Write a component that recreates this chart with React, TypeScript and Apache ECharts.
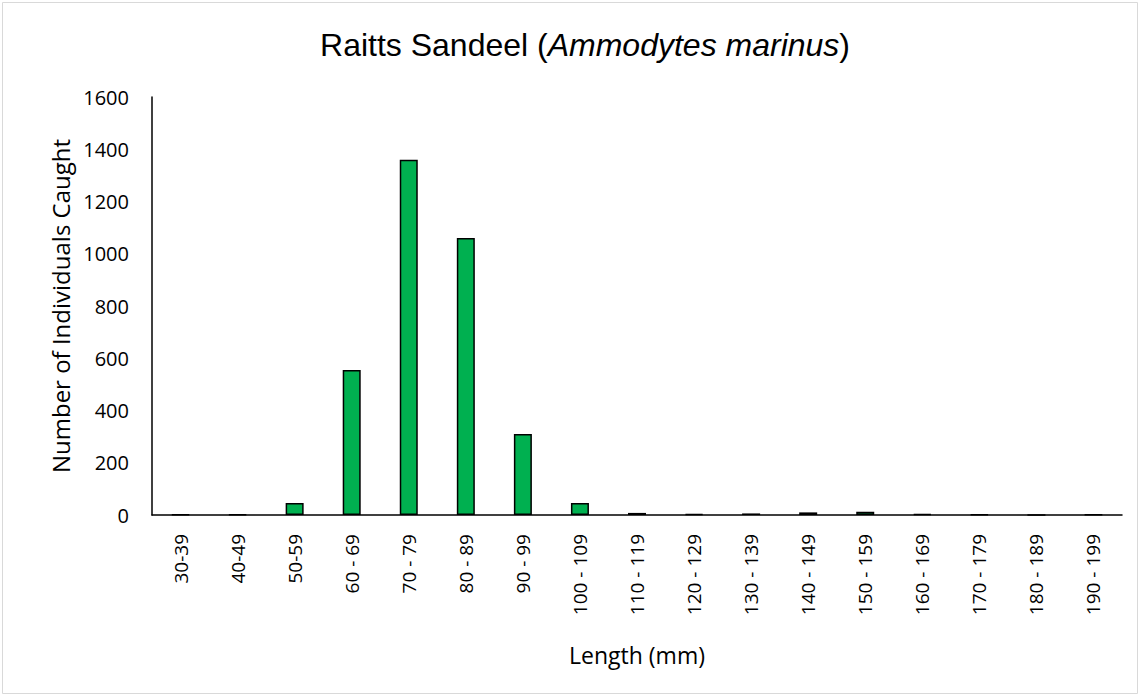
import React, { useEffect, useRef } from "react";
import * as echarts from "echarts";

const categories = [
  "30-39", "40-49", "50-59", "60 - 69", "70 - 79", "80 - 89", "90 - 99",
  "100 - 109", "110 - 119", "120 - 129", "130 - 139", "140 - 149",
  "150 - 159", "160 - 169", "170 - 179", "180 - 189", "190 - 199",
];
const counts = [2, 2, 46, 555, 1360, 1060, 310, 46, 8, 3, 6, 10, 12, 3, 2, 0, 1];
const yTicks = { min: 0, max: 1600, interval: 200 };

export default function App() {
  const ref = useRef<HTMLDivElement>(null);
  useEffect(() => {
    document.body.style.margin = "0";
    const chart = echarts.init(ref.current!, null, { renderer: "svg" });
    const font = "Open Sans";
    chart.setOption({
      animation: false,
      backgroundColor: "#fff",
      title: {
        text: "{n|Raitts Sandeel (}{i|Ammodytes marinus}{n|)}",
        left: 580,
        textAlign: "center",
        top: 24,
        textStyle: {
          fontWeight: "normal",
          rich: {
            n: { fontFamily: "Liberation Sans", fontSize: 32, fontWeight: "normal", color: "#000" },
            i: { fontFamily: "Liberation Sans", fontSize: 32, fontWeight: "normal", fontStyle: "italic", color: "#000" },
          },
        },
      },
      graphic: [
        {
          type: "rect",
          shape: { x: 2.5, y: 2.5, width: 1135, height: 691 },
          style: { fill: "none", stroke: "#d9d9d9", lineWidth: 1 },
          silent: true,
        },
      ],
      grid: { left: 152, right: 19, top: 97, bottom: 182 },
      xAxis: {
        type: "category",
        data: categories,
        name: "Length (mm)",
        nameLocation: "middle",
        nameGap: 128,
        nameTextStyle: { fontFamily: font, fontSize: 23, color: "#000" },
        axisLine: { lineStyle: { color: "#000", width: 1.5 } },
        axisTick: { show: false },
        axisLabel: { rotate: 90, margin: 19, fontFamily: font, fontSize: 19, color: "#000" },
      },
      yAxis: {
        type: "value",
        min: yTicks.min,
        max: yTicks.max,
        interval: yTicks.interval,
        name: "Number of Individuals Caught",
        nameLocation: "middle",
        nameGap: 78,
        nameTextStyle: { fontFamily: font, fontSize: 24, color: "#000" },
        axisLine: { show: true, lineStyle: { color: "#000", width: 1.5 } },
        axisTick: { show: false },
        splitLine: { show: false },
        axisLabel: {
          margin: 23,
          fontFamily: font,
          fontSize: 20,
          color: "#000",
          formatter: (v: number) => String(v),
        },
      },
      series: [
        {
          type: "bar",
          data: counts,
          barWidth: 18,
          itemStyle: { color: "#00B050", borderColor: "#000", borderWidth: 1.5 },
        },
      ],
    });
    return () => chart.dispose();
  }, []);
  return <div ref={ref} style={{ width: 1141, height: 697 }} />;
}
